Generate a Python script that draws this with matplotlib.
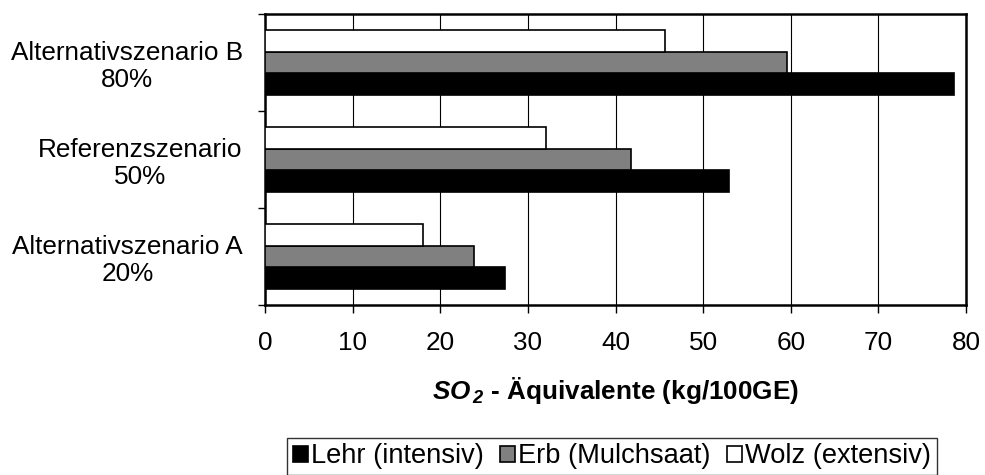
import matplotlib
matplotlib.use("Agg")
import matplotlib.pyplot as plt
import numpy as np

plt.rcParams['font.family'] = ['Liberation Sans', 'DejaVu Sans']
plt.rcParams['mathtext.fontset'] = 'custom'
plt.rcParams['mathtext.rm'] = 'Liberation Sans'
plt.rcParams['mathtext.it'] = 'Liberation Sans:italic'
plt.rcParams['mathtext.bf'] = 'Liberation Sans:bold'
plt.rcParams['mathtext.bfit'] = 'Liberation Sans:italic:bold'

categories = ["Alternativszenario A\n20%", "Referenzszenario\n50%", "Alternativszenario B\n80%"]
series_names = ["Lehr (intensiv)", "Erb (Mulchsaat)", "Wolz (extensiv)"]
lehr = [27.4, 53.0, 78.6]
erb = [23.9, 41.8, 59.6]
wolz = [18.0, 32.1, 45.6]
series_values = [lehr, erb, wolz]
series_colors = ["#000000", "#808080", "#ffffff"]
x_ticks = [0, 10, 20, 30, 40, 50, 60, 70, 80]

FS = 18.8
LEG_FS = 19.6

fig = plt.figure(figsize=(9.85, 4.75), dpi=100)
ax = fig.add_axes([265 / 985, 1 - 305 / 475, (966 - 265) / 985, (305 - 14) / 475])

y = np.arange(len(categories))
bar_h = 0.222
for i, (vals, name, col) in enumerate(zip(series_values, series_names, series_colors)):
    offs = (i - 1) * bar_h
    ax.barh(y + offs, vals, height=bar_h, color=col, edgecolor="black",
            linewidth=1.2, label=name, zorder=3)

ax.set_xlim(0, 80)
ax.set_ylim(-0.5, len(categories) - 0.5)
ax.set_xticks(x_ticks)
ax.set_xticklabels([str(t) for t in x_ticks], fontsize=FS)
ax.tick_params(axis='x', direction='out', length=6, width=1, pad=13)

ax.set_yticks(y)
ax.set_yticklabels(categories, fontsize=FS, multialignment='center', linespacing=1.15)
ax.tick_params(axis='y', which='major', length=0, pad=16)
ax.set_yticks(np.arange(-0.5, len(categories)), minor=True)
ax.tick_params(axis='y', which='minor', direction='out', length=5, width=1)

ax.xaxis.grid(True, color="black", linewidth=0.8, zorder=0)
ax.set_axisbelow(True)
for sp in ax.spines.values():
    sp.set_linewidth(1.8)
    sp.set_color("black")

ax.set_xlabel(r"$\mathbfit{SO}_{\,\mathbfit{2}}$ - Äquivalente (kg/100GE)",
              fontsize=FS, fontweight='bold', labelpad=14)

leg = fig.legend(loc='upper center', bbox_to_anchor=(612 / 985, 1 - 438 / 475), ncol=3,
                 fontsize=LEG_FS, frameon=True, fancybox=False, edgecolor="black",
                 handlelength=0.55, handleheight=0.55, handletextpad=0.12,
                 columnspacing=0.6, borderpad=0.2, borderaxespad=0)
leg.get_frame().set_linewidth(1.0)

fig.savefig("out.png", dpi=100)
